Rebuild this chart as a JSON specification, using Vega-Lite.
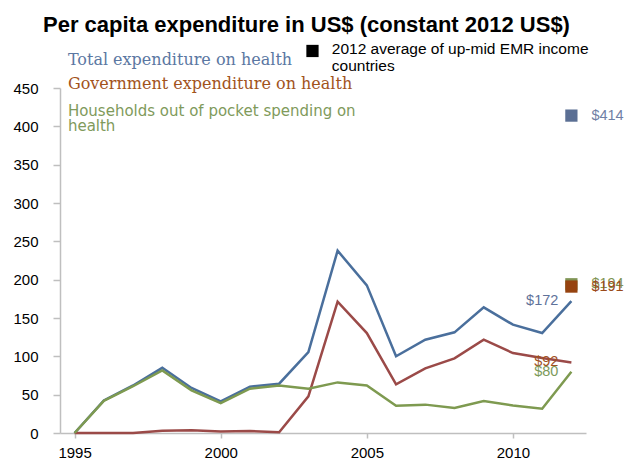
{
  "$schema": "https://vega.github.io/schema/vega-lite/v6.json",
  "width": 526,
  "height": 345,
  "autosize": {"type": "none"},
  "padding": {"left": 60, "top": 88, "right": 57, "bottom": 39},
  "background": "white",
  "title": {
    "text": "Per capita expenditure in US$ (constant 2012 US$)",
    "font": "Liberation Sans",
    "fontSize": 22,
    "fontWeight": "bold",
    "color": "#000000",
    "anchor": "start",
    "frame": "group",
    "baseline": "alphabetic",
    "dx": -17,
    "offset": -12
  },
  "config": {
    "view": {"stroke": null},
    "axis": {
      "grid": false,
      "domainColor": "#bfbfbf",
      "tickColor": "#bfbfbf",
      "domainWidth": 1.5,
      "tickWidth": 1.5,
      "labelFont": "Liberation Sans",
      "labelFontSize": 15,
      "labelColor": "#000000",
      "labelOverlap": false,
      "title": null
    }
  },
  "datasets": {
    "main": [
      {"year": 1995, "series": "Total", "value": 0},
      {"year": 1996, "series": "Total", "value": 42.5},
      {"year": 1997, "series": "Total", "value": 62},
      {"year": 1998, "series": "Total", "value": 85},
      {"year": 1999, "series": "Total", "value": 58.7},
      {"year": 2000, "series": "Total", "value": 41.3},
      {"year": 2001, "series": "Total", "value": 60.4},
      {"year": 2002, "series": "Total", "value": 64.3},
      {"year": 2003, "series": "Total", "value": 105.6},
      {"year": 2004, "series": "Total", "value": 237.8},
      {"year": 2005, "series": "Total", "value": 192.6},
      {"year": 2006, "series": "Total", "value": 100},
      {"year": 2007, "series": "Total", "value": 121.7},
      {"year": 2008, "series": "Total", "value": 131.3},
      {"year": 2009, "series": "Total", "value": 163.9},
      {"year": 2010, "series": "Total", "value": 141.3},
      {"year": 2011, "series": "Total", "value": 130.4},
      {"year": 2012, "series": "Total", "value": 172},
      {"year": 1995, "series": "Government", "value": 0},
      {"year": 1996, "series": "Government", "value": 0},
      {"year": 1997, "series": "Government", "value": 0},
      {"year": 1998, "series": "Government", "value": 3},
      {"year": 1999, "series": "Government", "value": 3.5},
      {"year": 2000, "series": "Government", "value": 2},
      {"year": 2001, "series": "Government", "value": 2.5},
      {"year": 2002, "series": "Government", "value": 1},
      {"year": 2003, "series": "Government", "value": 47.8},
      {"year": 2004, "series": "Government", "value": 171.3},
      {"year": 2005, "series": "Government", "value": 130.4},
      {"year": 2006, "series": "Government", "value": 63.5},
      {"year": 2007, "series": "Government", "value": 84.3},
      {"year": 2008, "series": "Government", "value": 97.4},
      {"year": 2009, "series": "Government", "value": 121.7},
      {"year": 2010, "series": "Government", "value": 104.3},
      {"year": 2011, "series": "Government", "value": 97.8},
      {"year": 2012, "series": "Government", "value": 92},
      {"year": 1995, "series": "Households", "value": 0},
      {"year": 1996, "series": "Households", "value": 42},
      {"year": 1997, "series": "Households", "value": 61},
      {"year": 1998, "series": "Households", "value": 81.7},
      {"year": 1999, "series": "Households", "value": 55.6},
      {"year": 2000, "series": "Households", "value": 39},
      {"year": 2001, "series": "Households", "value": 57.8},
      {"year": 2002, "series": "Households", "value": 62},
      {"year": 2003, "series": "Households", "value": 57.8},
      {"year": 2004, "series": "Households", "value": 66},
      {"year": 2005, "series": "Households", "value": 62},
      {"year": 2006, "series": "Households", "value": 35.6},
      {"year": 2007, "series": "Households", "value": 37},
      {"year": 2008, "series": "Households", "value": 32.6},
      {"year": 2009, "series": "Households", "value": 41.7},
      {"year": 2010, "series": "Households", "value": 36},
      {"year": 2011, "series": "Households", "value": 31.7},
      {"year": 2012, "series": "Households", "value": 80}
    ],
    "bench": [
      {"series": "Total", "value": 414},
      {"series": "Households", "value": 194},
      {"series": "Government", "value": 191}
    ]
  },
  "layer": [
    {
      "data": {"name": "main"},
      "mark": {"type": "line", "strokeWidth": 2.5},
      "encoding": {
        "x": {
          "field": "year",
          "type": "quantitative",
          "scale": {"domain": [1994.5, 2012.5], "nice": false, "zero": false},
          "axis": {"values": [1995, 2000, 2005, 2010], "format": "d", "tickSize": 5, "labelPadding": 7}
        },
        "y": {
          "field": "value",
          "type": "quantitative",
          "scale": {"domain": [0, 450], "nice": false},
          "axis": {"values": [0, 50, 100, 150, 200, 250, 300, 350, 400, 450], "tickSize": 7, "labelPadding": 15, "labelOverlap": false}
        },
        "color": {
          "field": "series",
          "type": "nominal",
          "scale": {"domain": ["Total", "Government", "Households"], "range": ["#4a6f9c", "#9b4a48", "#7e9a50"]},
          "legend": null
        }
      }
    },
    {
      "data": {"name": "main"},
      "transform": [{"filter": "datum.year === 2012"}],
      "mark": {"type": "text", "align": "right", "baseline": "middle", "dx": -13, "font": "Liberation Sans", "fontSize": 14.5},
      "encoding": {
        "x": {"field": "year", "type": "quantitative"},
        "y": {"field": "value", "type": "quantitative", "axis": {"values": [0, 50, 100, 150, 200, 250, 300, 350, 400, 450], "tickSize": 7, "labelPadding": 15, "labelOverlap": false}},
        "text": {"field": "value", "type": "quantitative", "format": "$d"},
        "color": {
          "condition": [
            {"test": "datum.series === 'Total'", "value": "#5f729a"},
            {"test": "datum.series === 'Government'", "value": "#a0521e"}
          ],
          "value": "#7c9a5a"
        }
      }
    },
    {
      "data": {"name": "bench"},
      "mark": {"type": "point", "shape": "square", "filled": true, "opacity": 1, "size": 150},
      "encoding": {
        "x": {"datum": 2012, "type": "quantitative"},
        "y": {"field": "value", "type": "quantitative", "axis": {"values": [0, 50, 100, 150, 200, 250, 300, 350, 400, 450], "tickSize": 7, "labelPadding": 15, "labelOverlap": false}},
        "color": {
          "condition": [
            {"test": "datum.series === 'Total'", "value": "#5b6f94"},
            {"test": "datum.series === 'Government'", "value": "#964310"}
          ],
          "value": "#7f9454"
        }
      }
    },
    {
      "data": {"name": "bench"},
      "mark": {"type": "text", "align": "left", "baseline": "middle", "dx": 20, "font": "Liberation Sans", "fontSize": 14.5},
      "encoding": {
        "x": {"datum": 2012, "type": "quantitative"},
        "y": {"field": "value", "type": "quantitative", "axis": {"values": [0, 50, 100, 150, 200, 250, 300, 350, 400, 450], "tickSize": 7, "labelPadding": 15, "labelOverlap": false}},
        "text": {"field": "value", "type": "quantitative", "format": "$d"},
        "color": {
          "condition": [
            {"test": "datum.series === 'Total'", "value": "#6f80a4"},
            {"test": "datum.series === 'Government'", "value": "#9a4a1a"}
          ],
          "value": "#7f9454"
        }
      }
    },
    {
      "data": {"values": [{"label": "Total expenditure on health"}]},
      "mark": {"type": "text", "align": "left", "baseline": "alphabetic", "font": "DejaVu Serif", "fontSize": 16, "color": "#5b77a2"},
      "encoding": {
        "x": {"datum": 1994.77, "type": "quantitative"},
        "y": {"datum": 480, "type": "quantitative", "axis": {"values": [0, 50, 100, 150, 200, 250, 300, 350, 400, 450], "tickSize": 7, "labelPadding": 15, "labelOverlap": false}},
        "text": {"field": "label"}
      }
    },
    {
      "data": {"values": [{"label": "Government expenditure on health"}]},
      "mark": {"type": "text", "align": "left", "baseline": "alphabetic", "font": "DejaVu Serif", "fontSize": 16, "color": "#a2531c"},
      "encoding": {
        "x": {"datum": 1994.77, "type": "quantitative"},
        "y": {"datum": 448.7, "type": "quantitative", "axis": {"values": [0, 50, 100, 150, 200, 250, 300, 350, 400, 450], "tickSize": 7, "labelPadding": 15, "labelOverlap": false}},
        "text": {"field": "label"}
      }
    },
    {
      "data": {"values": [{"label": "Households out of pocket spending on|health"}]},
      "mark": {"type": "text", "align": "left", "baseline": "alphabetic", "font": "DejaVu Sans", "fontSize": 15, "lineBreak": "|", "lineHeight": 15, "color": "#809a5b"},
      "encoding": {
        "x": {"datum": 1994.77, "type": "quantitative"},
        "y": {"datum": 413.9, "type": "quantitative", "axis": {"values": [0, 50, 100, 150, 200, 250, 300, 350, 400, 450], "tickSize": 7, "labelPadding": 15, "labelOverlap": false}},
        "text": {"field": "label"}
      }
    },
    {
      "data": {"values": [{"label": "2012 average"}]},
      "mark": {"type": "point", "shape": "square", "filled": true, "opacity": 1, "size": 150, "color": "#000000"},
      "encoding": {
        "x": {"datum": 2003.14, "type": "quantitative"},
        "y": {"datum": 498.3, "type": "quantitative", "axis": {"values": [0, 50, 100, 150, 200, 250, 300, 350, 400, 450], "tickSize": 7, "labelPadding": 15, "labelOverlap": false}}
      }
    },
    {
      "data": {"values": [{"label": "2012 average of up-mid EMR income|countries"}]},
      "mark": {"type": "text", "align": "left", "baseline": "alphabetic", "font": "Liberation Sans", "fontSize": 15.5, "lineBreak": "|", "lineHeight": 17, "color": "#000000"},
      "encoding": {
        "x": {"datum": 2003.8, "type": "quantitative"},
        "y": {"datum": 494.3, "type": "quantitative", "axis": {"values": [0, 50, 100, 150, 200, 250, 300, 350, 400, 450], "tickSize": 7, "labelPadding": 15, "labelOverlap": false}},
        "text": {"field": "label"}
      }
    }
  ]
}
